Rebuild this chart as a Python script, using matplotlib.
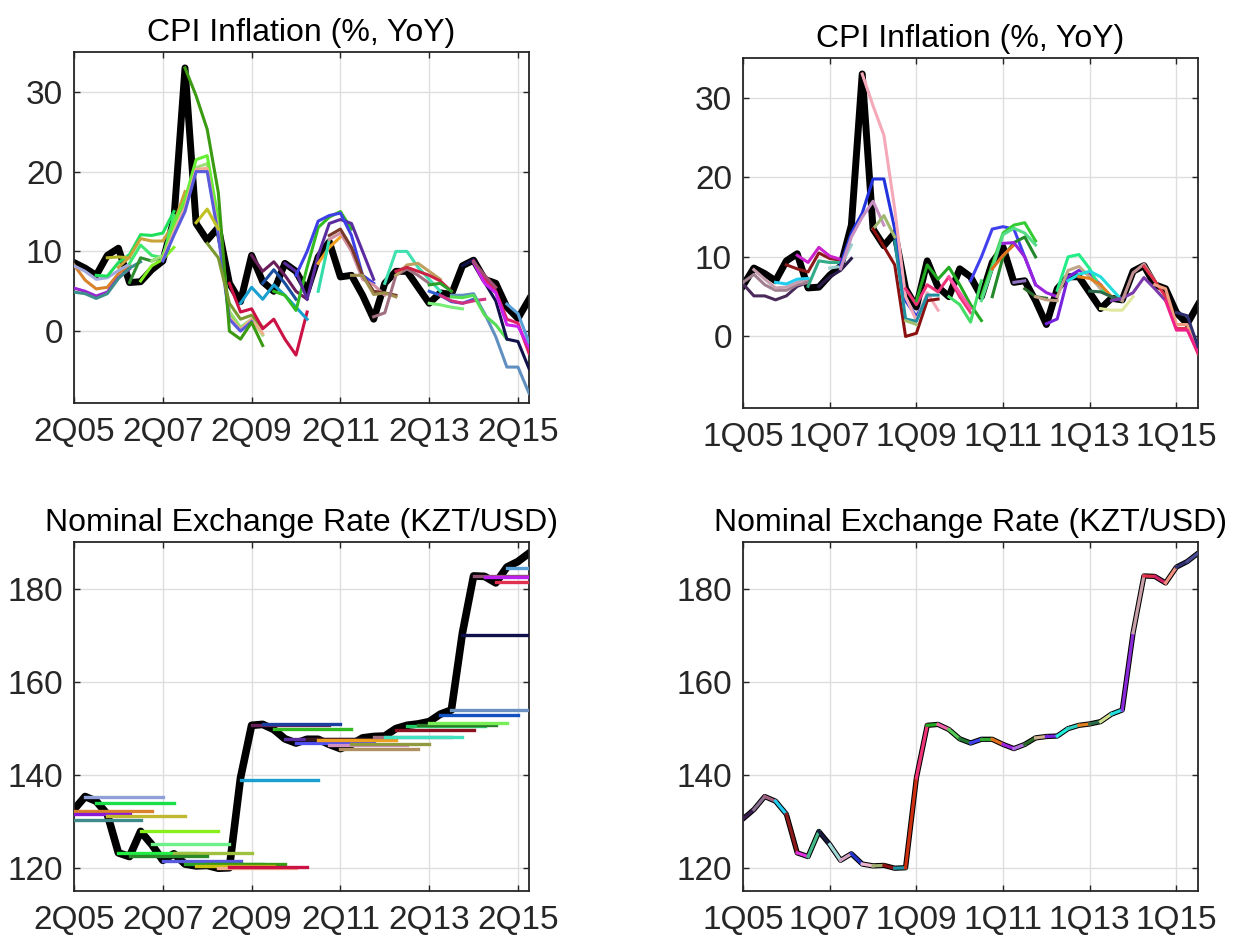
import numpy as np
import matplotlib
matplotlib.use("Agg")
import matplotlib.pyplot as plt

plt.rcParams['font.family'] = ['Liberation Sans', 'DejaVu Sans']

# quarters run 1Q05 (index 0) .. 3Q15 (index 42)
n_quarters = 43
labels_q2 = ['2Q05', '2Q07', '2Q09', '2Q11', '2Q13', '2Q15']
labels_q1 = ['1Q05', '1Q07', '1Q09', '1Q11', '1Q13', '1Q15']

# actual CPI inflation (%, yoy)
cpi_actual = [6.4, 8.6, 7.9, 7.0, 9.5, 10.4, 6.1, 6.2, 7.7, 8.8, 14.0, 33.0, 13.5,
              11.4, 13.0, 6.0, 3.7, 9.5, 6.2, 5.0, 8.5, 7.5, 5.0, 9.3, 11.2, 6.8,
              7.0, 4.5, 1.5, 6.0, 7.5, 7.5, 5.5, 3.5, 4.8, 4.6, 8.2, 8.9, 6.5, 6.0,
              3.0, 1.6, 4.0]

# actual exchange rate (KZT/USD)
fx_actual = [130.5, 132.5, 135.3, 134.3, 131.5, 123.2, 122.4, 127.8, 125.0, 121.6,
             123.0, 120.8, 120.4, 120.5, 119.9, 120.0, 139.3, 150.6, 150.8, 149.7,
             147.7, 146.8, 147.6, 147.6, 146.5, 145.6, 146.5, 147.9, 148.2, 148.3,
             149.9, 150.6, 150.9, 151.4, 153.0, 153.9, 170.5, 182.7, 182.6, 181.2,
             184.6, 185.8, 187.6]

# CPI forecast vintages, second-quarter round (top left)
tl_start = [1, 1, 1, 1, 3, 4, 5, 6, 7, 6, 8, 9, 9, 9, 11, 12, 13, 15, 16, 17, 18,
            19, 20, 21, 23, 23, 24, 24, 26, 28, 29, 30, 30, 33, 33, 33, 34, 35,
            35, 36, 37, 37, 37, 40]
tl_values = [
    [8.3, 6.4, 5.3, 5.5, 7.2, 8.3],
    [8.2, 7.5, 6.5, 6.7, 7.6, 8.4],
    [5.4, 5.0, 4.4, 4.9, 6.7, 7.8],
    [4.9, 4.7, 4.1, 4.7, 6.6, 7.9, 8.7],
    [7.0, 6.9, 8.6, 9.6, 12.1, 12.0, 12.3, 15.0],
    [9.2, 9.3, 9.2],
    [8.0, 9.3, 11.6, 11.3, 11.3, 13.5, 17.5],
    [6.1, 9.2, 8.8, 9.4, 12.8, 16.0],
    [6.3, 8.2, 9.0, 10.5],
    [8.5, 10.8, 9.5, 9.2, 14.5],
    [8.8, 9.5, 13.0, 15.5, 20.5, 21.0, 12.5, 2.5, 0.5, 1.5, -0.5],
    [9.3, 13.5, 16.5, 21.5, 22.0, 14.0, 2.0, 0.3, 1.3, 0.5],
    [9.0, 12.5, 15.5, 20.3, 20.4, 12.5, 1.8, 0.2, 1.5, -0.3],
    [8.8, 12.0, 15.0, 20.0, 20.0, 12.0, 1.5, 0.0, 1.2],
    [33.0, 29.5, 25.3, 17.4, 0.0, -1.0, 1.1, -1.8],
    [13.6, 15.3, 12.8],
    [11.0, 9.2, 3.5, 1.5, 2.0, 0.5],
    [6.0, 2.4, 2.8, 0.3, 1.5, -1.0, -3.0, 2.4],
    [3.5, 5.5, 4.0, 5.8, 4.5, 3.0, 1.5],
    [9.5, 7.5, 8.7, 7.0, 5.0, 4.0],
    [6.0, 7.7, 6.0, 4.0],
    [5.0, 4.5, 2.6, 8.0, 13.0, 14.3, 15.0, 12.8],
    [8.5, 7.5, 4.0, 9.5, 13.5, 14.0, 13.5, 10.0, 6.5],
    [7.0, 10.0, 13.8, 14.5, 14.8, 12.0, 7.0, 6.0],
    [8.5, 10.5, 11.8],
    [5.0, 11.5],
    [11.5, 12.3, 10.0, 6.5, 5.8, 4.5],
    [12.0, 12.8, 10.5, 7.0, 5.0, 4.8, 4.5],
    [7.0, 7.0, 4.6, 4.8, 4.3],
    [1.8, 2.3, 7.0, 7.8, 7.0, 6.0],
    [6.0, 10.0, 10.0, 8.0, 6.5, 5.0],
    [7.0, 8.3, 8.5, 7.5, 6.5],
    [7.5, 8.0, 7.5, 7.0, 6.3, 5.0],
    [5.8, 6.0, 5.0],
    [3.5, 3.3, 3.0, 2.8],
    [5.0, 4.5, 3.7, 3.5, 4.0],
    [4.5, 3.8, 3.5, 3.8, 4.0],
    [4.5, 4.5, 4.7, 2.2, -0.7, -4.5, -4.5, -7.8],
    [4.3, 4.2, 4.5, 2.0, 0.8, -1.0],
    [8.2, 9.0, 6.1, 3.8, -1.0, -1.3, -4.7],
    [8.8, 6.5, 5.0, 1.5, 1.0, -2.8],
    [8.6, 6.0, 4.8, 0.8, 0.6, -2.0],
    [8.7, 7.0, 5.5],
    [3.4, 2.2, -1.4],
]
tl_colors = ['#d9822b', '#a3a8dc', '#9b24d1', '#3d8f8c', '#1fe05a', '#b5b52a',
             '#c9a23a', '#2f8f2f', '#80ee22', '#40e870', '#9de07a', '#66ee33',
             '#f0b090', '#5a5adc', '#3a9a12', '#c0c020', '#7a9a30', '#cc1144',
             '#1aa0d0', '#6a1f5a', '#1a4fa0', '#33bb22', '#5b2ca0', '#3f3fe8',
             '#f0a020', '#33ddaa', '#d090a0', '#7a3a2a', '#a09050', '#a07080',
             '#40e0b0', '#c0a060', '#cc2244', '#2aa02a', '#77ee77', '#2f5fcf',
             '#d03080', '#6090c0', '#55dd55', '#10104a', '#e0206a', '#cc22ee',
             '#a05070', '#5aa0d8']

# CPI forecast vintages, first-quarter round (top right)
tr_start = [0, 0, 1, 3, 4, 5, 6, 7, 8, 9, 9, 11, 12, 12, 14, 15, 15, 16, 19, 19,
            21, 22, 22, 23, 23, 24, 25, 26, 27, 28, 29, 29, 30, 31, 32, 33, 34,
            35, 37, 38, 39, 40]
tr_values = [
    [6.6, 5.1, 5.1, 4.6, 5.1, 6.3, 6.8],
    [6.8, 7.8, 6.5, 5.8, 5.8, 6.5, 6.8],
    [8.4, 7.2, 6.1, 6.2, 6.8, 7.2],
    [6.8, 6.6, 7.2, 7.3],
    [9.0, 8.5, 8.1, 10.5, 9.8, 9.6],
    [10.2, 9.3, 11.2, 10.1, 9.7],
    [6.3, 9.5, 9.3, 9.3],
    [6.3, 7.5, 8.3, 9.8],
    [8.6, 8.8, 11.5],
    [9.0, 13.0, 15.5, 19.8, 19.8, 13.5, 4.5, 2.5, 5.0],
    [8.5, 12.5, 15.0, 17.0, 14.0],
    [33.0, 29.0, 25.3, 16.0, 5.0, 2.0, 5.5, 3.3],
    [13.5, 15.2, 12.5],
    [13.5, 11.3, 9.0, 0.0, 0.4, 4.5, 4.7],
    [12.0, 2.2, 1.9, 5.2, 5.2],
    [2.0, 1.5],
    [6.0, 4.0, 6.5, 5.6, 7.5, 5.0, 3.0],
    [4.5, 9.0, 7.2, 8.7, 6.5, 4.0, 2.0],
    [5.0, 4.0, 1.8, 7.0],
    [7.5, 5.5, 3.5],
    [7.0, 10.0, 13.5, 13.8, 13.5, 10.0, 6.5],
    [5.0, 9.0, 13.0, 14.0, 14.3, 12.0],
    [4.5, 8.5, 12.8, 13.6, 13.0, 11.5],
    [5.0, 10.0, 11.8, 12.5, 10.0],
    [8.5, 10.2, 11.5],
    [11.7, 11.8, 10.0, 6.5, 5.5, 5.0],
    [6.8, 7.0],
    [6.0, 5.0, 4.8],
    [5.0, 4.6, 4.5],
    [1.6, 2.2, 7.5, 8.3, 7.8, 6.5],
    [5.8, 10.0, 10.3, 8.5, 6.0, 5.0],
    [5.0, 8.3, 8.8, 7.5, 6.0],
    [7.0, 7.8, 8.2, 7.5, 6.0, 4.5],
    [7.5, 7.3, 6.5, 5.0, 4.5],
    [5.7, 5.6, 5.0, 4.5],
    [3.5, 3.3, 3.3, 5.0],
    [4.5, 4.8, 5.5, 7.4, 6.0, 4.5],
    [4.5, 8.0, 9.1, 7.0],
    [8.8, 7.0, 5.0, 1.0, 1.0, -2.2],
    [6.5, 6.0, 1.5, 1.5, -1.8],
    [4.5, 0.8, 0.8, -2.0],
    [3.0, 2.6, -1.3],
]
tr_colors = ['#4a2a5a', '#a08090', '#c8a0b0', '#22ccee', '#8b1a1a', '#cc22cc',
             '#33aa88', '#2a1a4a', '#99cccc', '#2233dd', '#c890c0', '#f4a8b8',
             '#a0b870', '#8b1010', '#2090a0', '#a0c070', '#ee3377', '#22aa22',
             '#44dd66', '#ff55aa', '#4040ee', '#33cc33', '#55dd88', '#22882a',
             '#e07020', '#9922dd', '#9070c0', '#2a6a2a', '#c0a080', '#7722dd',
             '#22ee88', '#c0a888', '#22dddd', '#e08020', '#2a6a4a', '#e0e8a0',
             '#7a3aaa', '#c09090', '#e0304a', '#f0a080', '#ee2288', '#303070']

# exchange rate assumptions (flat over the forecast horizon), bottom left
fx_horizon = 7
bl_start = [2, 3, 1, -1, 4, 0, 7, 8, 5, 10, 6, 9, 11, 13, 12, 14, 15, 16, 17, 18,
            19, 20, 21, 22, 23, 24, 25, 26, 28, 29, 30, 31, 32, 33, 34, 35, 36,
            37, 38, 39, 40]
bl_level = [135.2, 134.0, 132.2, 131.5, 131.1, 130.2, 127.9, 125.0, 123.2, 123.1,
            122.5, 121.5, 120.9, 120.7, 120.4, 120.0, 120.1, 138.9, 150.6, 150.8,
            149.8, 147.7, 146.8, 147.6, 147.5, 146.4, 145.6, 146.6, 148.2, 148.1,
            149.6, 150.5, 150.6, 151.1, 152.9, 153.8, 170.1, 182.6, 182.5, 181.3,
            184.5]
bl_colors = ['#8fa0d8', '#19e04a', '#d9822b', '#8a1ad6', '#c0b830', '#3f8a8a',
             '#8aee1a', '#6ef08a', '#22ee44', '#a0c040', '#2a8a2a', '#5a5ae0',
             '#2aa02a', '#3a9a12', '#c8c010', '#f0b090', '#cc1144', '#1aa0d0',
             '#6a1f5a', '#1a3fa0', '#33bb22', '#5b2ca0', '#4f4fee', '#3a1a1a',
             '#f0a020', '#d090c0', '#b09060', '#909a40', '#a07080', '#40e0c0',
             '#8b1020', '#22cc66', '#2a7a2a', '#77ee55', '#1050c0', '#6a90c0',
             '#10104a', '#905070', '#bb22ee', '#e03050', '#5aa0d8']

# colour of each quarter-to-quarter segment, bottom right
br_colors = ['#3a2050', '#8a7090', '#a06080', '#22ccee', '#8b1a1a', '#dd33dd',
             '#44bb88', '#1a1a40', '#a0d8d8', '#d0a0c0', '#2233cc', '#f0b8d0',
             '#a0b070', '#8b1010', '#2090a0', '#cc3010', '#ee3377', '#22aa22',
             '#ee66aa', '#55cc55', '#227733', '#4040ee', '#33aa33', '#e07020',
             '#9922dd', '#b070e0', '#2a6a2a', '#d0b090', '#7722dd', '#22eedd',
             '#30d0c0', '#e08020', '#2a6a4a', '#d0e090', '#22dddd', '#8a2ad8',
             '#c8a0a8', '#e0304a', '#cc2266', '#f09080', '#303070', '#4a4a90']

FS_TICK = 24
FS_TITLE = 23
INK = '#262626'


def style_axes(ax, title, x0, labels, ylim, yticks):
    ax.set_xlim(x0, n_quarters - 1)
    ax.set_ylim(*ylim)
    ax.set_xticks(np.arange(x0, n_quarters - 1, 8))
    ax.set_xticklabels(labels)
    ax.set_yticks(yticks)
    ax.set_title(title, fontsize=FS_TITLE, pad=8, color='k')
    ax.grid(True, color='#dedede', linewidth=1.0)
    ax.set_axisbelow(True)
    ax.tick_params(direction='in', length=4, width=1.0, top=True, right=True,
                   labelsize=FS_TICK, colors=INK)
    ax.tick_params(axis='x', pad=10)
    ax.tick_params(axis='y', pad=8)
    for sp in ax.spines.values():
        sp.set_color(INK)
        sp.set_linewidth(1.3)


def plot_vintages(ax, starts, values, colors):
    for s, vals, c in zip(starts, values, colors):
        x = np.arange(s, s + len(vals))
        ax.plot(x, vals, color=c, linewidth=2.2, zorder=3)


t = np.arange(n_quarters)

fig = plt.figure(figsize=(12.44, 9.38), dpi=100)
ax_tl = fig.add_axes([0.0595, 0.5704, 0.3658, 0.3742])
ax_tr = fig.add_axes([0.5973, 0.5650, 0.3658, 0.3731])
ax_bl = fig.add_axes([0.0595, 0.0501, 0.3658, 0.3721])
ax_br = fig.add_axes([0.5973, 0.0501, 0.3658, 0.3721])

# top left
ax_tl.plot(t[1:], cpi_actual[1:], color='k', linewidth=5, zorder=2)
plot_vintages(ax_tl, tl_start, tl_values, tl_colors)
style_axes(ax_tl, 'CPI Inflation (%, YoY)', 1, labels_q2, (-9, 35), [0, 10, 20, 30])

# top right
ax_tr.plot(t, cpi_actual, color='k', linewidth=5, zorder=2)
plot_vintages(ax_tr, tr_start, tr_values, tr_colors)
style_axes(ax_tr, 'CPI Inflation (%, YoY)', 0, labels_q1, (-9, 35), [0, 10, 20, 30])

# bottom left
ax_bl.plot(t[1:], fx_actual[1:], color='k', linewidth=5.5, zorder=2)
for s, lev, c in zip(bl_start, bl_level, bl_colors):
    ax_bl.plot([s, s + fx_horizon], [lev, lev], color=c, linewidth=2.4, zorder=3)
style_axes(ax_bl, 'Nominal Exchange Rate (KZT/USD)', 1, labels_q2, (115, 190),
           [120, 140, 160, 180])

# bottom right
ax_br.plot(t, fx_actual, color='k', linewidth=3.8, zorder=2,
           solid_capstyle='round', solid_joinstyle='round')
for i, c in enumerate(br_colors):
    ax_br.plot(t[i:i + 2], fx_actual[i:i + 2], color=c, linewidth=2.3, zorder=3)
style_axes(ax_br, 'Nominal Exchange Rate (KZT/USD)', 0, labels_q1, (115, 190),
           [120, 140, 160, 180])

fig.savefig('out.png', dpi=100)
